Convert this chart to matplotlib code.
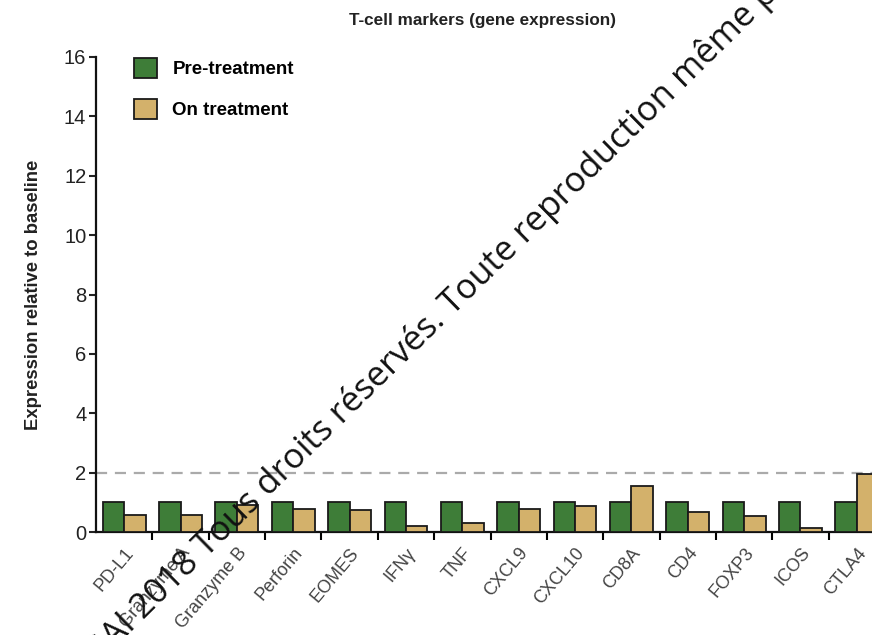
import matplotlib
matplotlib.use("Agg")
from matplotlib import pyplot as plt
from matplotlib.patches import Patch
import numpy as np

# Data
markers = ["PD-L1", "Granzyme A", "Granzyme B", "Perforin", "EOMES", "IFN\u03b3", "TNF",
           "CXCL9", "CXCL10", "CD8A", "CD4", "FOXP3", "ICOS", "CTLA4"]
pre_treatment = [1.0, 1.0, 1.0, 1.0, 1.0, 1.0, 1.0, 1.0, 1.0, 1.0, 1.0, 1.0, 1.0, 1.0]
on_treatment = [0.57, 0.57, 0.9, 0.77, 0.74, 0.21, 0.31, 0.79, 0.88, 1.55, 0.68, 0.54, 0.14, 1.95]
series_names = ["Pre-treatment", "On treatment"]
threshold = 2

GREEN = "#3e7d38"
TAN = "#d3b16b"

plt.rcParams["font.family"] = ["Liberation Sans", "DejaVu Sans"]

W, H = 872, 635
fig = plt.figure(figsize=(W / 100, H / 100), dpi=100)
# axes runs a bit past the right edge, as in the reference
ax = fig.add_axes([96 / W, (H - 532) / H, (885 - 96) / W, (532 - 57) / H])

x = np.arange(len(markers))
bw = 0.38
ax.bar(x - bw / 2, pre_treatment, bw, color=GREEN, edgecolor="#1a1a1a", linewidth=1.3, zorder=3)
ax.bar(x + bw / 2, on_treatment, bw, color=TAN, edgecolor="#1a1a1a", linewidth=1.3, zorder=3)
ax.axhline(threshold, color="#aaaaaa", lw=1.6, ls=(0, (5, 3.5)), zorder=2)

ax.set_xlim(-0.5, len(markers) - 0.5)
ax.set_ylim(0, 16)
ax.set_yticks(np.arange(0, 17, 2))
ax.tick_params(axis="y", labelsize=14.5, width=1.5, length=5, pad=2, colors="#222222")
ax.set_xticks(x)
ax.set_xticklabels(markers, rotation=50, ha="right", rotation_mode="anchor",
                   fontsize=13, color="#444444")
ax.tick_params(axis="x", which="major", length=0, pad=9)
ax.set_xticks(x[:-1] + 0.5, minor=True)
ax.tick_params(axis="x", which="minor", length=6, width=1.5)

for s in ["top", "right"]:
    ax.spines[s].set_visible(False)
for s in ["left", "bottom"]:
    ax.spines[s].set_linewidth(1.6)
    ax.spines[s].set_color("#111111")

handles = [Patch(facecolor=GREEN, edgecolor="#1a1a1a", linewidth=1.3),
           Patch(facecolor=TAN, edgecolor="#1a1a1a", linewidth=1.3)]
leg = ax.legend(handles, series_names, loc="upper left", frameon=False,
                bbox_to_anchor=(117 / W, 1 - 41 / H), bbox_transform=fig.transFigure,
                prop={"weight": "bold", "size": 13.5}, handlelength=1.25, handleheight=1.25,
                handletextpad=0.8, labelspacing=1.1)

fig.text(482 / W, 1 - 20 / H, "T-cell markers (gene expression)", ha="center", va="center",
         fontsize=12.3, fontweight="bold", color="#222222")
fig.text(34 / W, 1 - 295 / H, "Expression relative to baseline", ha="center", va="center",
         rotation=90, fontsize=13.3, fontweight="bold", color="#222222")

# watermark across the chart
fig.text(446 / W, 1 - 322 / H, "\u00a9AGAI 2018 Tous droits r\u00e9serv\u00e9s.", ha="right",
         va="baseline", rotation=44.5, rotation_mode="anchor", fontsize=25,
         family="Open Sans", color="#111111", zorder=10)
fig.text(446 / W, 1 - 322 / H, " Toute reproduction m\u00eame partielle interdite", ha="left",
         va="baseline", rotation=44.5, rotation_mode="anchor", fontsize=25,
         family="Open Sans", color="#111111", zorder=10)

fig.savefig("out.png", dpi=100)
